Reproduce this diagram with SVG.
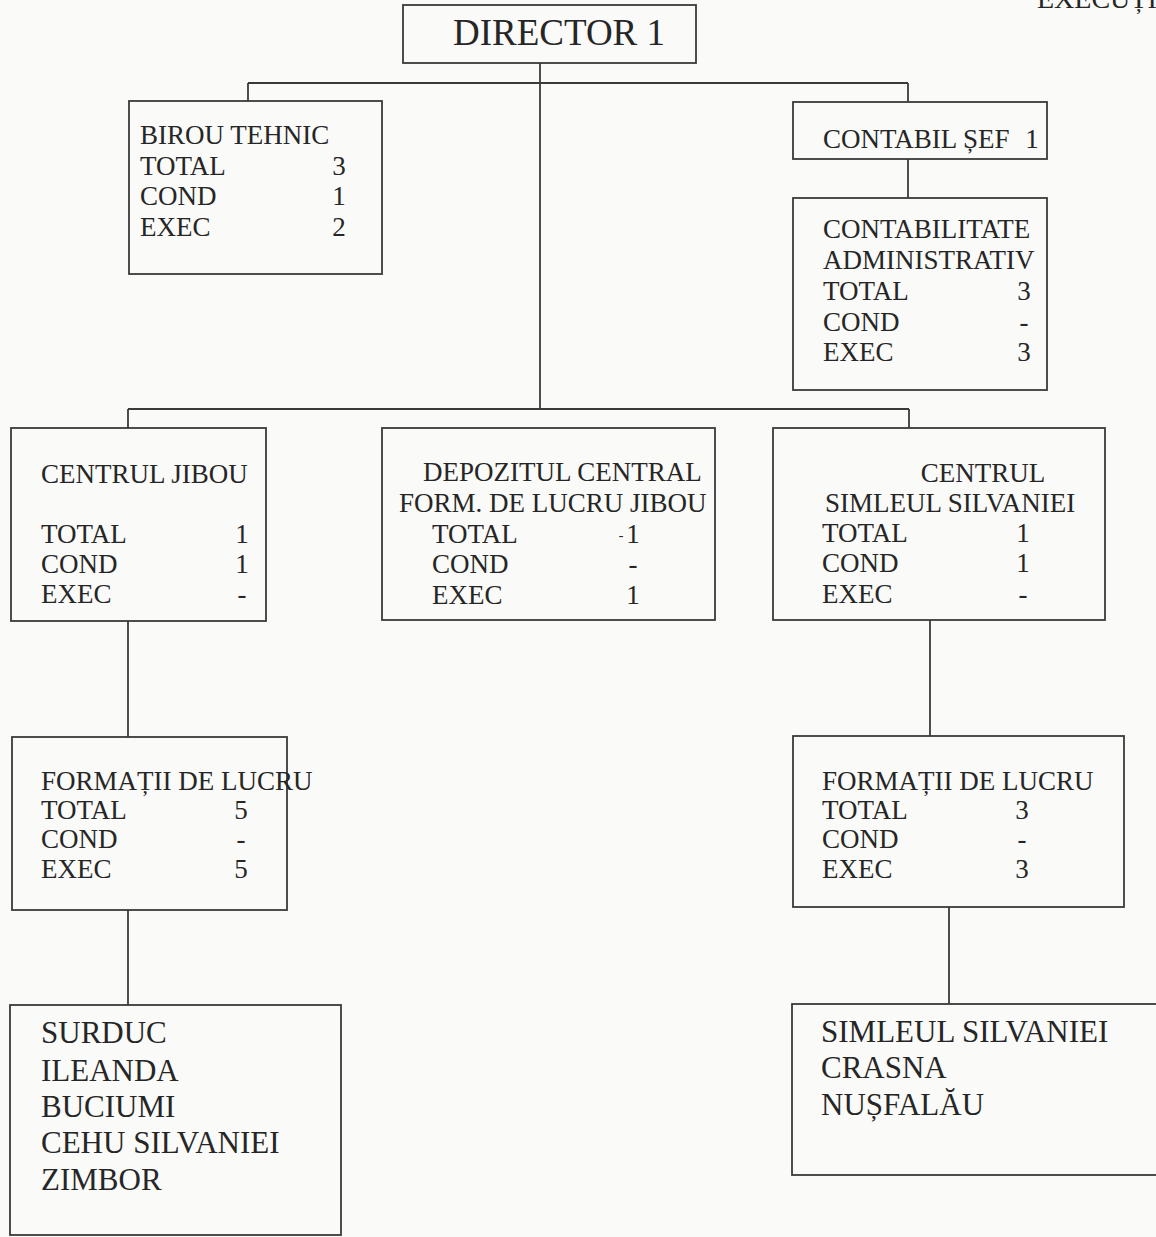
<svg xmlns="http://www.w3.org/2000/svg" width="1156" height="1237" viewBox="0 0 1156 1237" font-family="'Liberation Serif', 'DejaVu Serif', serif">
<style>
.bg{fill:#fafaf8}
.box{fill:none;stroke:#3a3a3a;stroke-width:1.8}
.ln{fill:none;stroke:#3a3a3a;stroke-width:1.8}
text{font-family:'Liberation Serif', 'DejaVu Serif', serif;fill:#262626}
.t{font-size:27px}
.big{font-size:31px}
.num{font-size:27px;text-anchor:middle}
</style>
<rect class="bg" x="0" y="0" width="1156" height="1237"/>
<text x="1037" y="8" style="font-size:28px">EXECUȚIE</text>
<g id="connectors">
<path class="ln" d="M540 63 V409"/>
<path class="ln" d="M248 83 H908"/>
<path class="ln" d="M248 83 V101"/>
<path class="ln" d="M908 83 V102"/>
<path class="ln" d="M908 159 V198"/>
<path class="ln" d="M128 409 H909"/>
<path class="ln" d="M128 409 V428"/>
<path class="ln" d="M909 409 V428"/>
<path class="ln" d="M128 621 V737"/>
<path class="ln" d="M930 620 V736"/>
<path class="ln" d="M128 910 V1005"/>
<path class="ln" d="M949 907 V1004"/>
</g>
<g id="director">
<rect class="box" x="403" y="5" width="293" height="58"/>
<text x="559" y="45" style="font-size:37px;text-anchor:middle">DIRECTOR 1</text>
</g>
<g id="birou-tehnic">
<rect class="box" x="129" y="101" width="253" height="173"/>
<text class="t" x="140" y="144">BIROU TEHNIC</text>
<text class="t" x="140" y="175">TOTAL</text>
<text class="t" x="140" y="205">COND</text>
<text class="t" x="140" y="236">EXEC</text>
<text class="num" x="339" y="175">3</text>
<text class="num" x="339" y="205">1</text>
<text class="num" x="339" y="236">2</text>
</g>
<g id="contabil-sef">
<rect class="box" x="793" y="102" width="254" height="57"/>
<text class="t" x="823" y="148">CONTABIL ȘEF</text>
<text class="num" x="1032" y="148">1</text>
</g>
<g id="contabilitate">
<rect class="box" x="793" y="198" width="254" height="192"/>
<text class="t" x="823" y="238">CONTABILITATE</text>
<text class="t" x="823" y="269">ADMINISTRATIV</text>
<text class="t" x="823" y="300">TOTAL</text>
<text class="t" x="823" y="331">COND</text>
<text class="t" x="823" y="361">EXEC</text>
<text class="num" x="1024" y="300">3</text>
<text class="num" x="1024" y="331">-</text>
<text class="num" x="1024" y="361">3</text>
</g>
<g id="centrul-jibou">
<rect class="box" x="11" y="428" width="255" height="193"/>
<text class="t" x="41" y="483">CENTRUL JIBOU</text>
<text class="t" x="41" y="543">TOTAL</text>
<text class="t" x="41" y="573">COND</text>
<text class="t" x="41" y="603">EXEC</text>
<text class="num" x="242" y="543">1</text>
<text class="num" x="242" y="573">1</text>
<text class="num" x="242" y="603">-</text>
</g>
<g id="depozitul">
<rect class="box" x="382" y="428" width="333" height="192"/>
<text class="t" x="423" y="481">DEPOZITUL CENTRAL</text>
<text class="t" x="399" y="512">FORM. DE LUCRU JIBOU</text>
<text class="t" x="432" y="543">TOTAL</text>
<text class="t" x="432" y="573">COND</text>
<text class="t" x="432" y="604">EXEC</text>
<text x="621" y="540" style="font-size:14px;text-anchor:middle">-</text>
<text class="num" x="633" y="543">1</text>
<text class="num" x="633" y="573">-</text>
<text class="num" x="633" y="604">1</text>
</g>
<g id="centrul-simleul">
<rect class="box" x="773" y="428" width="332" height="192"/>
<text class="t" x="983" y="482" style="text-anchor:middle">CENTRUL</text>
<text class="t" x="825" y="512">SIMLEUL SILVANIEI</text>
<text class="t" x="822" y="542">TOTAL</text>
<text class="t" x="822" y="572">COND</text>
<text class="t" x="822" y="603">EXEC</text>
<text class="num" x="1023" y="542">1</text>
<text class="num" x="1023" y="572">1</text>
<text class="num" x="1023" y="603">-</text>
</g>
<g id="formatii-jibou">
<rect class="box" x="12" y="737" width="275" height="173"/>
<text class="t" x="41" y="790">FORMAȚII DE LUCRU</text>
<text class="t" x="41" y="819">TOTAL</text>
<text class="t" x="41" y="848">COND</text>
<text class="t" x="41" y="878">EXEC</text>
<text class="num" x="241" y="819">5</text>
<text class="num" x="241" y="848">-</text>
<text class="num" x="241" y="878">5</text>
</g>
<g id="formatii-simleul">
<rect class="box" x="793" y="736" width="331" height="171"/>
<text class="t" x="822" y="790">FORMAȚII DE LUCRU</text>
<text class="t" x="822" y="819">TOTAL</text>
<text class="t" x="822" y="848">COND</text>
<text class="t" x="822" y="878">EXEC</text>
<text class="num" x="1022" y="819">3</text>
<text class="num" x="1022" y="848">-</text>
<text class="num" x="1022" y="878">3</text>
</g>
<g id="localitati-jibou">
<rect class="box" x="10" y="1005" width="331" height="230"/>
<text class="big" x="41" y="1043">SURDUC</text>
<text class="big" x="41" y="1081">ILEANDA</text>
<text class="big" x="41" y="1117">BUCIUMI</text>
<text class="big" x="41" y="1153">CEHU SILVANIEI</text>
<text class="big" x="41" y="1190">ZIMBOR</text>
</g>
<g id="localitati-simleul">
<rect class="box" x="792" y="1004" width="380" height="171"/>
<text class="big" x="821" y="1042">SIMLEUL SILVANIEI</text>
<text class="big" x="821" y="1078">CRASNA</text>
<text class="big" x="821" y="1115">NUȘFALĂU</text>
</g>
</svg>
